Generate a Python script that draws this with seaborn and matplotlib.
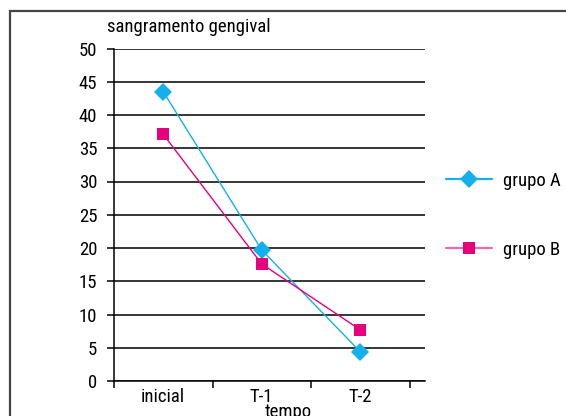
import matplotlib
matplotlib.use("Agg")
import matplotlib.pyplot as plt
from matplotlib.lines import Line2D
from matplotlib.patches import Rectangle
from matplotlib.ticker import FixedLocator, NullFormatter
import seaborn as sns
import pandas as pd

# Data
tempos = ["inicial", "T-1", "T-2"]
grupo_a = [43.5, 19.7, 4.4]
grupo_b = [37.1, 17.6, 7.7]
y_ticks = [0, 5, 10, 15, 20, 25, 30, 35, 40, 45, 50]

cor_a = "#13B0EC"
cor_b = "#E6007E"
fs = 13.5

sns.set_theme(style="white")
plt.rcParams["font.family"] = ["Roboto Condensed", "DejaVu Sans"]
plt.rcParams["font.size"] = fs
plt.rcParams["text.color"] = "black"
plt.rcParams["xtick.color"] = "black"
plt.rcParams["ytick.color"] = "black"

df = pd.DataFrame({
    "tempo": tempos * 2,
    "valor": grupo_a + grupo_b,
    "grupo": ["grupo A"] * 3 + ["grupo B"] * 3,
})
df["pos"] = df["tempo"].map({t: i for i, t in enumerate(tempos)})

W, H = 566, 416
fig = plt.figure(figsize=(W / 100, H / 100), dpi=100)
ax = fig.add_axes([114 / W, 1 - 381 / H, (425 - 114) / W, (381 - 48.5) / H])

# Outer frame of the figure
fig.patches.append(Rectangle((10 / W, -0.1), 1.2, 1 - 11 / H + 0.1,
                             transform=fig.transFigure, fill=False,
                             edgecolor="#444444", linewidth=1.6, zorder=0))

ax.set_ylim(0, 50)
ax.set_xlim(-0.5, (425 - 114) / 98.5 - 0.5)
ax.set_yticks(y_ticks)
ax.yaxis.grid(True, color="black", linewidth=1.1)
ax.set_axisbelow(True)

sns.lineplot(data=df, x="pos", y="valor", hue="grupo", style="grupo",
             palette={"grupo A": cor_a, "grupo B": cor_b},
             markers={"grupo A": "D", "grupo B": "s"}, dashes=False,
             markeredgewidth=0, linewidth=1.0,
             legend=False, ax=ax, zorder=3)
for ln in ax.lines:
    ln.set_markersize(9 if ln.get_marker() == "D" else 8)

for s in ["top", "right"]:
    ax.spines[s].set_visible(False)
for s in ["left", "bottom"]:
    ax.spines[s].set_color("black")
    ax.spines[s].set_linewidth(1.1)

ax.set_xticks(range(len(tempos)))
ax.set_xticklabels(tempos)
ax.xaxis.set_minor_locator(FixedLocator([-0.5, 0.5, 1.5, 2.5]))
ax.xaxis.set_minor_formatter(NullFormatter())
ax.tick_params(axis="x", which="major", length=0, pad=5, labelsize=fs)
ax.tick_params(axis="x", which="minor", length=5, width=1.1, color="black",
               direction="out", bottom=True)
ax.tick_params(axis="y", length=5, width=1.1, color="black", direction="out",
               left=True, pad=7, labelsize=fs)

ax.set_xlabel("")
ax.set_ylabel("")
fig.text(288 / W, 1 - 403 / H, "tempo", fontsize=fs, ha="center", va="top")
fig.text(107 / W, 1 - 27 / H, "sangramento gengival", fontsize=fs,
         ha="left", va="center")

handles = [
    Line2D([], [], color=cor_a, marker="D", markersize=9, markeredgewidth=0, linewidth=1.6),
    Line2D([], [], color="#F06AB0", marker="s", markersize=9, markerfacecolor=cor_b,
           markeredgewidth=0, linewidth=1.6),
]
fig.legend(handles, ["grupo A", "grupo B"], loc="upper left",
           bbox_to_anchor=(446 / W, 1 - 172 / H), frameon=False,
           fontsize=fs, handlelength=2.45, handletextpad=0.6, labelspacing=2.7,
           borderpad=0, borderaxespad=0)

fig.savefig("out.png", dpi=100)
